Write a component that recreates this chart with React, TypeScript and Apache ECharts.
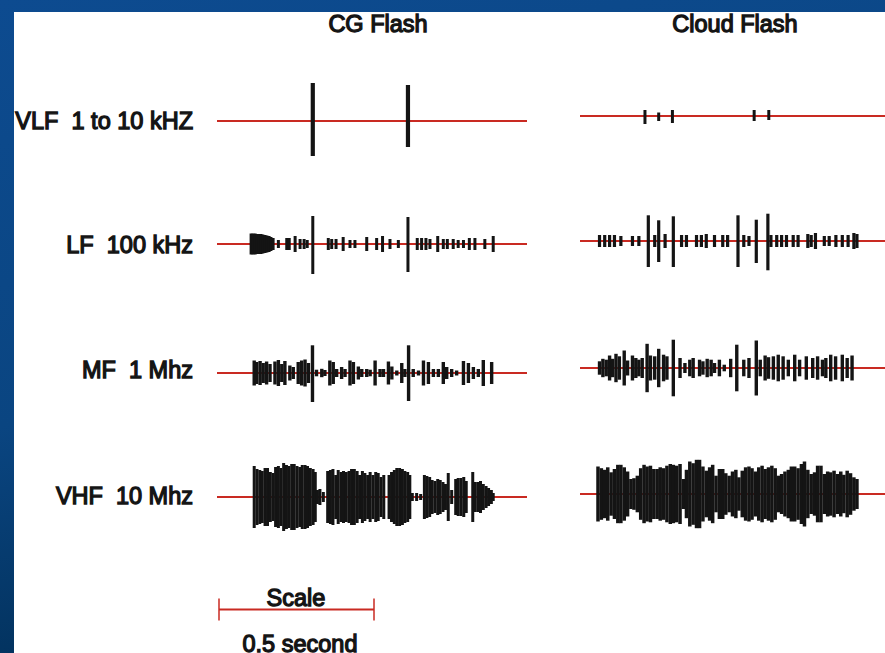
import { useEffect, useRef } from "react";
import * as echarts from "echarts";

// Pulse: [time in ms, amplitude above line, amplitude below line (optional, defaults to above)]
type Pulse = number[];

const panelTitles = ["CG Flash", "Cloud Flash"];
const bandLabels = ["VLF  1 to 10 kHZ", "LF  100 kHz", "MF  1 Mhz", "VHF  10 Mhz"];
const scaleLabel = "Scale";
const scaleText = "0.5 second";
const scaleSpanMs = [0, 500];

const vlfCG: Pulse[] = [[309, 38, 35], [616, 36, 26]];
const vlfCloud: Pulse[] = [[213, 6, 8], [258, 3.5, 5], [303, 6, 7], [571, 6, 5], [619, 6, 4]];

const lfCG: Pulse[] = [
  [110, 10.5], [116, 10.5], [123, 10.5], [129, 10], [135, 10], [142, 10], [148, 9.5], [155, 9], [161, 8.5], [168, 8], [174, 7], [181, 6],
  [198, 4], [225, 6], [233, 6], [252, 8], [268, 5], [281, 5], [291, 4],
  [309, 28, 30],
  [359, 6], [370, 5], [384, 5], [407, 7], [429, 4], [445, 4], [483, 7], [515, 6], [534, 8], [558, 5], [585, 4],
  [616, 27, 28],
  [646, 6], [660, 6], [674, 6], [687, 5], [712, 8], [730, 5], [743, 5], [762, 5], [778, 4], [795, 4], [814, 6], [832, 6], [864, 5], [891, 8],
];
const lfCloud: Pulse[] = [
  [64, 6], [81, 6], [97, 6], [113, 6], [134, 5], [172, 5], [193, 5],
  [224, 25.7, 26], [245, 6], [258, 20.7, 21], [279, 7], [306, 24.7, 26],
  [333, 6], [349, 6], [382, 6], [398, 6], [414, 7], [441, 6], [468, 6], [484, 6],
  [518, 25.7, 26], [537, 6], [554, 5], [578, 21.3, 22], [616, 27.3, 29.3],
  [626, 6], [645, 6], [661, 6], [677, 6], [699, 6], [715, 6], [747, 7], [758, 6], [772, 8],
  [801, 5], [817, 5], [839, 6], [860, 6], [879, 6], [898, 8], [908, 7],
];

const mfCG: Pulse[] = [
  [120, 12.5], [128, 11], [139, 12], [149, 10], [160, 11.5], [171, 9], [187, 11.5], [198, 13], [209, 9], [219, 12],
  [235, 7.5], [246, 6], [262, 11], [273, 12.5], [284, 13.5], [295, 10], [308, 27.7, 29],
  [321, 3.3], [338, 4.2], [348, 3], [364, 12.5], [375, 11], [386, 4], [402, 6], [413, 4], [429, 12.5], [440, 11],
  [456, 6.5], [467, 4], [483, 4], [494, 3.3], [510, 12.5], [526, 4], [537, 4], [553, 11.5], [564, 6.5], [580, 2.5],
  [596, 10], [606, 4], [618, 27.7, 28], [633, 4], [650, 2.5], [666, 12.5], [682, 11], [698, 4], [714, 4], [730, 11],
  [741, 6], [757, 4], [773, 2.5], [795, 12], [811, 10], [827, 6], [843, 4], [859, 13], [886, 11],
];
const mfCloud: Pulse[] = [
  [64, 6.7], [75, 9.2], [86, 8.3], [97, 12.5], [107, 9.2], [118, 14.2], [129, 11.7], [145, 17.5], [156, 7.5],
  [172, 12.5], [183, 10], [193, 8.3], [204, 10], [220, 24.2], [231, 12.5], [245, 11.7], [258, 19.2], [274, 13.3],
  [285, 11.7], [306, 28.3], [328, 10], [344, 5], [360, 8.3], [371, 10], [392, 8.3], [403, 6.7], [417, 9.2],
  [430, 8.3], [441, 5], [457, 8.3], [473, 3.3], [494, 9.2], [514, 23.3], [537, 8.3], [554, 10], [578, 27.5],
  [591, 8.3], [607, 12.5], [618, 10.8], [634, 11.7], [650, 13.3], [666, 11.7], [683, 8.3], [704, 13.3], [720, 8.3],
  [742, 11.7], [763, 10], [779, 11.7], [795, 8.3], [806, 10], [822, 13.3], [838, 11.7], [860, 13.3], [876, 10], [892, 12.5],
];

const vhfCG: Pulse[] = [
  [120, 31], [129, 28], [138, 27], [146, 26], [155, 29], [163, 29], [172, 25], [181, 24], [189, 30], [198, 31],
  [206, 29], [215, 34], [224, 32], [232, 31], [241, 33], [249, 33], [258, 31], [267, 30], [275, 32], [284, 32],
  [292, 31], [301, 29], [310, 28], [317, 25],
  [324, 7], [332, 8], [343, 5],
  [357, 26], [366, 27], [374, 28], [383, 22], [391, 27], [400, 25], [408, 26], [417, 25], [426, 26], [434, 28],
  [443, 28], [452, 26], [460, 22], [469, 26], [477, 24], [486, 22], [494, 25], [503, 22], [512, 25], [520, 24],
  [529, 20], [538, 22],
  [555, 22], [563, 25], [572, 27], [580, 29], [589, 29], [598, 28], [606, 26], [615, 25], [622, 22],
  [630, 4], [644, 4], [657, 3],
  [669, 22], [677, 21], [686, 20], [694, 17], [703, 16], [712, 18], [720, 17], [729, 15], [737, 13],
  [746, 24], [757, 7],
  [770, 18], [778, 19], [787, 19], [796, 20], [804, 16],
  [825, 25], [833, 15], [842, 15], [850, 16], [859, 13], [868, 11], [876, 9], [885, 7], [891, 4],
];
const vhfCloud: Pulse[] = [
  [59, 27.5], [70, 25.8], [81, 24.2], [91, 26.7], [102, 21.7], [113, 25], [124, 29.2], [134, 29.2], [145, 26.7],
  [156, 22.5], [167, 15], [177, 15.8], [188, 18.3], [199, 25.8], [210, 29.2], [220, 27.5], [231, 28.3], [242, 25],
  [253, 25], [263, 26.7], [274, 25.8], [285, 28.3], [296, 30], [306, 29.2], [317, 28.3], [328, 30], [339, 15],
  [349, 24.2], [360, 32.5], [371, 30.8], [382, 34.2], [392, 34.2], [403, 27.5], [414, 23.3], [425, 26.7],
  [435, 29.2], [446, 18.3], [457, 25], [468, 25], [478, 20.8], [489, 18.3], [500, 22.5], [511, 24.2], [521, 16.7],
  [532, 23.3], [543, 26.7], [554, 27.5], [564, 25.8], [575, 22.5], [586, 26.7], [597, 28.3], [607, 25], [618, 26.7],
  [629, 28.3], [640, 25.8], [650, 18.3], [661, 20], [672, 22.5], [683, 24.2], [693, 27.5], [704, 27.5], [715, 25.8],
  [726, 30], [736, 32.5], [747, 24.2], [758, 20], [769, 21.7], [779, 28.3], [790, 28.3], [801, 20], [812, 22.5],
  [822, 21.7], [833, 23.3], [844, 20], [855, 22.5], [865, 19.2], [876, 23.3], [887, 20.8], [898, 16.7], [908, 15],
];

const cgRows = [vlfCG, lfCG, mfCG, vhfCG];
const cloudRows = [vlfCloud, lfCloud, mfCloud, vhfCloud];

// layout (pixels)
const LEFT_X = 217;
const RIGHT_X = 580;
const PANEL_W = 310;
const leftLineY = [121, 244, 373, 497];
const rightLineY = [116, 241, 368, 494];
const labelY = [121, 245, 370, 496];
const leftBarW = [4.2, 3, 3.4, 3];
const rightBarW = [3, 3.2, 3.4, 3.5];
const RED = "#c92a22";
const INK = "#141414";
const FONT = "'Liberation Sans', Arial, sans-serif";

export default function App() {
  const ref = useRef<HTMLDivElement>(null);
  useEffect(() => {
    document.body.style.margin = "0";
    const chart = echarts.init(ref.current!, undefined, { renderer: "svg" });
    const grid: any[] = [];
    const xAxis: any[] = [];
    const yAxis: any[] = [];
    const series: any[] = [];

    const addPanel = (left: number, lineY: number, pulses: Pulse[], barW: number) => {
      const idx = grid.length;
      grid.push({ left, top: lineY - 50, width: PANEL_W, height: 100 });
      xAxis.push({ gridIndex: idx, type: "value", min: 0, max: 1000, show: false });
      yAxis.push({ gridIndex: idx, type: "value", min: -50, max: 50, show: false });
      series.push({
        type: "line",
        xAxisIndex: idx,
        yAxisIndex: idx,
        data: [[0, 0], [1000, 0]],
        symbol: "none",
        silent: true,
        lineStyle: { color: RED, width: 2 },
        z: 2,
      });
      series.push({
        type: "custom",
        xAxisIndex: idx,
        yAxisIndex: idx,
        clip: false,
        silent: true,
        z: 3,
        data: pulses.map((p) => [p[0], p[1], p.length > 2 ? p[2] : p[1]]),
        renderItem: (_params: any, api: any) => {
          const t = api.value(0);
          const top = api.coord([t, api.value(1)]);
          const bot = api.coord([t, -api.value(2)]);
          return {
            type: "rect",
            shape: { x: top[0] - barW / 2, y: top[1], width: barW, height: bot[1] - top[1] },
            style: { fill: INK },
          };
        },
      });
    };

    cgRows.forEach((p, i) => addPanel(LEFT_X, leftLineY[i], p, leftBarW[i]));
    cloudRows.forEach((p, i) => addPanel(RIGHT_X, rightLineY[i], p, rightBarW[i]));

    // scale bar grid
    const sIdx = grid.length;
    grid.push({ left: 219, top: 566, width: PANEL_W, height: 100 });
    xAxis.push({ gridIndex: sIdx, type: "value", min: 0, max: 1000, show: false });
    yAxis.push({ gridIndex: sIdx, type: "value", min: -50, max: 50, show: false });
    series.push({
      type: "custom",
      xAxisIndex: sIdx,
      yAxisIndex: sIdx,
      clip: false,
      silent: true,
      data: [scaleSpanMs],
      renderItem: (_params: any, api: any) => {
        const a = api.coord([api.value(0), 0]);
        const b = api.coord([api.value(1), 0]);
        return {
          type: "group",
          children: [
            { type: "line", shape: { x1: a[0], y1: a[1], x2: b[0], y2: b[1] }, style: { stroke: RED, lineWidth: 2 } },
            { type: "line", shape: { x1: a[0], y1: a[1] - 11, x2: a[0], y2: a[1] + 11 }, style: { stroke: RED, lineWidth: 1.5 } },
            { type: "line", shape: { x1: b[0], y1: b[1] - 11, x2: b[0], y2: b[1] + 11 }, style: { stroke: RED, lineWidth: 1.5 } },
          ],
        };
      },
    });

    const txt = (text: string, x: number, y: number, align: string) => ({
      type: "text",
      x,
      y,
      z: 10,
      style: {
        text,
        fill: INK,
        font: `23.5px ${FONT}`,
        textAlign: align,
        textVerticalAlign: "middle",
        stroke: INK,
        lineWidth: 1.3,
      },
    });

    chart.setOption({
      animation: false,
      backgroundColor: "transparent",
      graphic: [
        {
          type: "rect",
          z: -10,
          shape: { x: 0, y: 0, width: 885, height: 653 },
          style: {
            fill: new echarts.graphic.LinearGradient(0, 0, 0.3, 1, [
              { offset: 0, color: "#0d4b90" },
              { offset: 0.6, color: "#0a4581" },
              { offset: 1, color: "#012f58" },
            ]),
          },
        },
        { type: "rect", z: -9, shape: { x: 14, y: 12, width: 871, height: 641 }, style: { fill: "#ffffff" } },
        txt(panelTitles[0], 378, 24, "center"),
        txt(panelTitles[1], 735, 24, "center"),
        ...bandLabels.map((l, i) => txt(l, 193, labelY[i], "right")),
        txt(scaleLabel, 296, 598, "center"),
        txt(scaleText, 300, 644, "center"),
      ],
      grid,
      xAxis,
      yAxis,
      series,
    });
    return () => chart.dispose();
  }, []);
  return <div ref={ref} style={{ width: 885, height: 653 }} />;
}
